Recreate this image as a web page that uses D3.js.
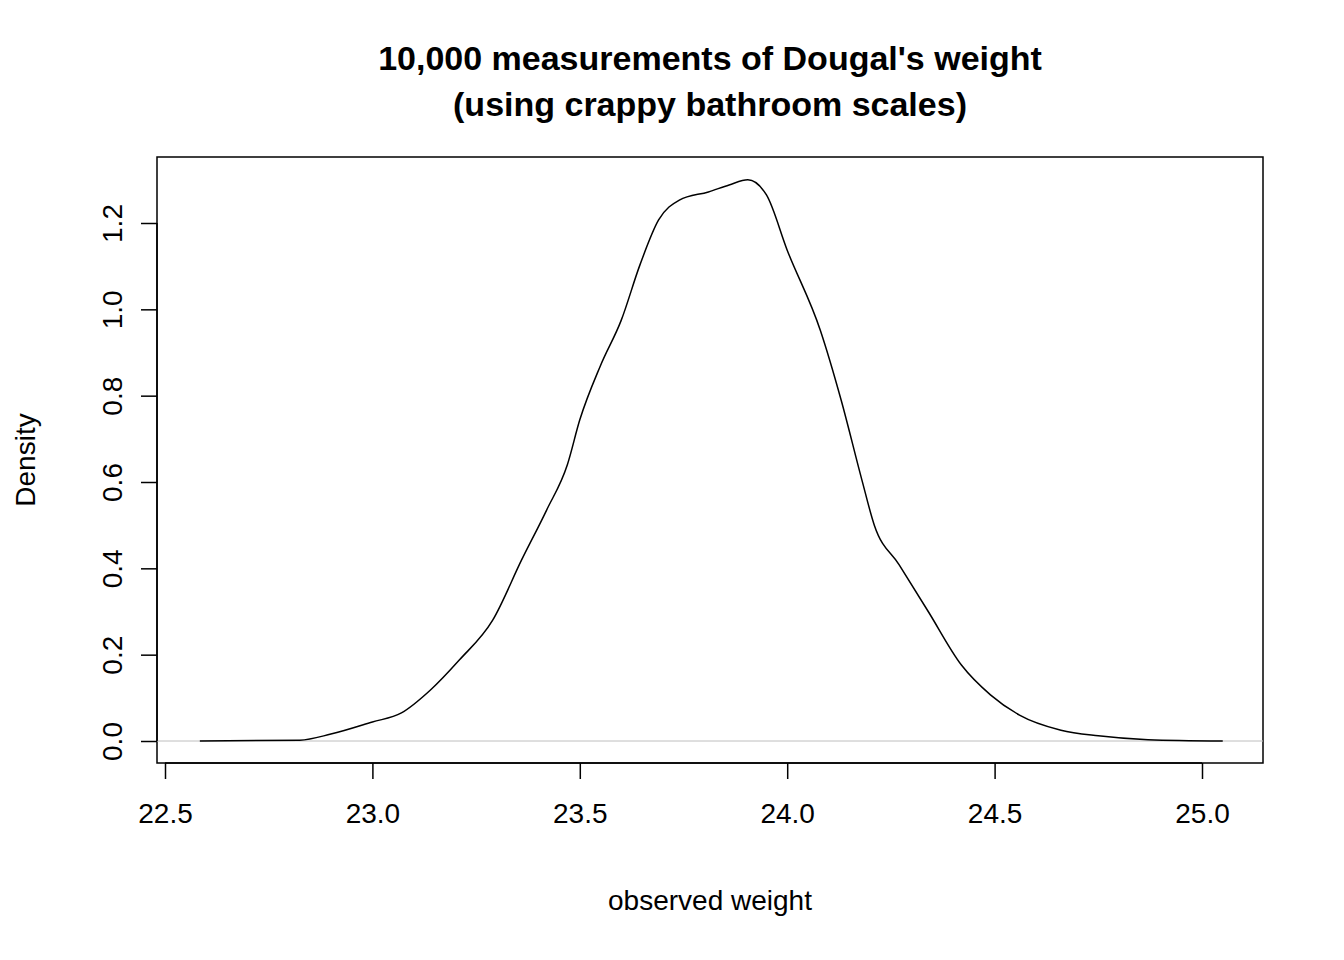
<!DOCTYPE html><html><head><meta charset="utf-8">
<script src="https://cdn.jsdelivr.net/npm/d3@7"></script>
<style>body{margin:0;background:#fff}text{font-family:"Liberation Sans",Arial,sans-serif}</style>
</head><body><svg width="1344" height="960"></svg><script>
const weights=[22.584,22.825,22.9,23.0,23.07,23.14,23.21,23.29,23.36,23.42,23.47,23.5,23.55,23.6,23.645,23.69,23.74,23.81,23.86,23.905,23.95,24.0,24.08,24.13,24.18,24.21,24.27,24.34,24.42,24.49,24.56,24.66,24.75,24.87,25.05];
const density=[0,0.002,0.016,0.044,0.065,0.118,0.188,0.28,0.42,0.535,0.64,0.744,0.87,0.975,1.103,1.207,1.253,1.272,1.288,1.30,1.265,1.137,0.951,0.79,0.605,0.5,0.408,0.30,0.176,0.107,0.06,0.025,0.012,0.003,0];
const xTicks=[22.5,23.0,23.5,24.0,24.5,25.0];
const yTicks=[0.0,0.2,0.4,0.6,0.8,1.0,1.2];
const svg=d3.select("svg");
const x=d3.scaleLinear().domain([22.5,25.0]).range([165,1202]);
const y=d3.scaleLinear().domain([0,1.2]).range([741,223]);
svg.append("rect").attr("x",157).attr("y",157).attr("width",1106).attr("height",606).attr("fill","none").attr("stroke","#000").attr("stroke-width",1.5);
svg.append("line").attr("x1",157).attr("x2",1263).attr("y1",y(0)).attr("y2",y(0)).attr("stroke","#bebebe");
const pts=weights.map((w,i)=>[w,density[i]]);
svg.append("path").datum(pts).attr("fill","none").attr("stroke","#000").attr("stroke-width",1.5)
 .attr("d",d3.line().x(d=>x(d[0])).y(d=>y(d[1])).curve(d3.curveMonotoneX));
const xa=svg.append("g").attr("transform","translate(0,763)").call(d3.axisBottom(x).tickValues(xTicks).tickFormat(d3.format(".1f")).tickSize(16).tickPadding(24));
const ya=svg.append("g").attr("transform","translate(157,0)").call(d3.axisLeft(y).tickValues(yTicks).tickFormat(d3.format(".1f")).tickSize(16));
[xa,ya].forEach(a=>{a.select(".domain").attr("stroke-width",1.5);a.selectAll("line").attr("stroke-width",1.5);a.selectAll("text").attr("font-size",28).attr("font-family","Liberation Sans, Arial, sans-serif").attr("fill","#000");});
xa.select(".domain").attr("d","M165,0H1202");
ya.select(".domain").attr("d","M0,741V223");
ya.selectAll(".tick text").attr("transform","rotate(-90)").attr("x",0).attr("y",-45).attr("dy","0.35em").attr("text-anchor","middle");
svg.append("text").attr("x",710).attr("y",910).attr("text-anchor","middle").attr("font-size",28).text("observed weight");
svg.append("text").attr("transform","translate(35,460) rotate(-90)").attr("text-anchor","middle").attr("font-size",28).text("Density");
svg.append("text").attr("x",710).attr("y",70).attr("text-anchor","middle").attr("font-size",34).attr("font-weight","bold").text("10,000 measurements of Dougal's weight");
svg.append("text").attr("x",710).attr("y",116).attr("text-anchor","middle").attr("font-size",34).attr("font-weight","bold").text("(using crappy bathroom scales)");
</script></body></html>
